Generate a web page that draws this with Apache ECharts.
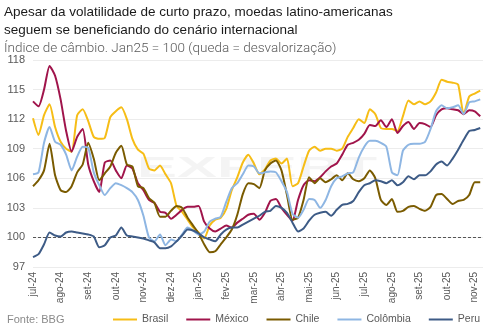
<!DOCTYPE html>
<html>
<head>
<meta charset="utf-8">
<script src="https://cdn.jsdelivr.net/npm/echarts@6/dist/echarts.min.js"></script>
<style>
  html, body { margin: 0; padding: 0; background: #fff; }
  #chart { width: 502px; height: 335px; }
</style>
</head>
<body>
<div id="chart"></div>
<script>
var chart = echarts.init(document.getElementById('chart'));

// rótulos dos meses (eixo x = meses desde jul-24)
var MESES = ['jul-24','ago-24','set-24','out-24','nov-24','dez-24','jan-25','fev-25','mar-25',
             'abr-25','mai-25','jun-25','jul-25','ago-25','set-25','out-25','nov-25'];
var PASSO = 0.2; // um ponto a cada 0,2 mês

var brasil = [112.1,110.4,112.4,113.5,111.2,109.7,109.0,108.7,112.4,113.0,111.8,110.2,110.0,110.1,112.2,112.8,
  113.2,112.0,110.0,108.9,108.5,107.0,106.8,107.3,106.4,105.5,103.2,102.6,101.8,101.0,100.5,99.9,
  101.2,101.8,102.0,102.9,104.8,106.1,107.6,108.4,107.5,106.4,106.9,107.8,108.0,107.5,108.0,105.2,
  105.5,107.2,108.8,109.2,108.8,109.0,109.0,108.8,109.0,110.2,111.1,112.0,111.6,113.0,112.5,111.1,
  111.0,111.0,110.8,112.3,113.9,113.5,113.8,113.5,113.8,114.7,116.0,115.8,115.7,115.5,112.5,114.3,
  114.6,114.9];
var mexico = [113.8,113.3,115.0,117.4,116.4,114.0,110.8,108.7,110.2,111.0,107.4,105.7,104.6,107.6,107.8,106.8,
  106.0,107.3,107.0,105.5,104.8,103.8,103.5,102.6,102.5,101.9,102.3,102.8,103.1,103.1,103.2,101.6,
  100.9,100.6,100.9,101.2,101.0,101.5,101.9,102.3,102.4,101.8,102.5,103.7,103.9,103.0,102.3,101.7,
  103.8,105.3,105.8,105.7,106.1,106.7,107.2,107.5,108.4,109.4,109.6,109.9,110.5,111.4,111.3,111.9,
  111.2,112.0,110.6,111.3,111.7,111.0,111.6,111.5,111.2,112.4,113.0,113.1,113.0,112.9,112.5,112.9,
  112.8,112.3];
var chile = [105.2,105.8,106.8,109.5,106.3,104.8,104.6,105.2,106.6,107.4,109.6,108.0,105.8,106.5,107.2,108.6,
  109.3,107.4,107.2,105.2,105.0,104.0,103.5,102.1,102.1,102.7,103.2,103.0,102.0,101.2,100.4,99.3,
  98.5,98.6,99.3,100.0,100.8,102.3,104.4,105.5,105.4,105.0,106.8,107.5,107.8,106.8,104.3,101.8,
  102.0,103.8,106.1,105.5,106.0,105.6,105.9,106.3,105.8,106.5,105.9,105.7,106.0,106.8,106.0,103.8,
  103.3,103.9,102.6,102.7,103.1,103.2,102.9,102.7,103.1,104.3,104.4,103.9,103.4,103.7,103.8,104.3,
  105.6,105.6];
var colombia = [106.4,106.6,109.6,111.2,109.7,109.4,108.4,106.8,108.2,109.2,109.1,106.6,105.3,104.3,105.0,105.5,
  105.3,105.0,104.6,103.8,102.2,100.0,99.6,100.3,99.2,99.8,99.6,100.3,101.0,100.7,100.3,100.6,
  101.6,101.9,102.1,103.6,105.0,105.5,106.4,107.3,107.2,106.5,106.6,106.7,106.6,105.7,104.6,102.4,
  102.0,102.8,103.9,103.8,103.0,103.8,105.2,106.0,106.2,106.5,106.6,108.1,109.2,109.8,109.8,109.6,
  109.2,106.6,106.3,108.8,109.4,109.5,109.5,109.7,111.0,112.8,113.4,113.1,113.2,113.4,112.5,113.7,
  113.8,114.0];
var peru = [98.0,98.3,99.3,100.5,100.2,100.1,100.5,100.6,100.5,100.4,100.3,100.1,99.0,99.2,100.0,100.2,
  101.0,100.2,100.1,100.0,99.9,99.7,99.5,98.9,98.9,99.1,99.6,100.2,100.8,100.7,100.4,100.0,
  99.8,99.6,100.3,100.8,101.0,101.0,101.3,101.6,101.9,102.2,102.6,102.7,103.2,103.0,102.5,101.5,
  100.6,100.9,101.7,102.3,102.5,102.6,102.2,102.8,103.3,103.4,103.7,104.6,105.3,105.5,105.8,105.7,
  105.5,105.8,105.3,105.6,106.2,105.9,106.3,106.3,106.7,107.4,107.7,107.3,108.0,108.9,109.9,110.8,
  110.9,111.1];

var nomes = ['Brasil', 'México', 'Chile', 'Colômbia', 'Peru'];
var valores = [brasil, mexico, chile, colombia, peru];
var cores = ['#F6BD16', '#A0144B', '#7A5B00', '#8EB6E3', '#3D5B86'];

function pares(arr) {
  return arr.map(function (v, i) { return [+(i * PASSO).toFixed(2), v]; });
}

var series = nomes.map(function (n, i) {
  return {
    name: n,
    type: 'line',
    data: pares(valores[i]),
    showSymbol: false,
    smooth: 0.2,
    lineStyle: { width: 2, color: cores[i] },
    itemStyle: { color: cores[i] },
    z: 3
  };
});
// linha tracejada em 100
series[4].markLine = {
  silent: true,
  symbol: 'none',
  label: { show: false },
  lineStyle: { color: '#555', type: [3, 2], width: 1 },
  data: [{ yAxis: 100 }],
  z: 1
};

var option = {
  backgroundColor: '#fff',
  animation: false,
  textStyle: { fontFamily: 'Liberation Sans, Arial, sans-serif' },
  title: {
    text: 'Apesar da volatilidade de curto prazo, moedas latino-americanas\nseguem se beneficiando do cenário internacional',
    subtext: 'Índice de câmbio. Jan25 = 100 (queda = desvalorização)',
    left: 4, top: 3, padding: 0, itemGap: 3,
    textStyle: { fontSize: 13.5, fontWeight: 'normal', color: '#1a1a1a', lineHeight: 18, fontFamily: 'Liberation Sans, Arial' },
    subtextStyle: { fontSize: 13.5, fontWeight: 300, color: '#595959', fontFamily: 'Roboto, Arial' }
  },
  graphic: [
    { type: 'text', left: 137, top: 154, z: 0, scaleX: 2,
      style: { text: 'EXPERT', font: 'bold 30px Liberation Sans, Arial', fill: 'rgba(0,0,0,0.045)' } },
    { type: 'text', left: 7, top: 314,
      style: { text: 'Fonte: BBG', font: '11px Liberation Sans, Arial', fill: '#8a8a8a' } }
  ],
  legend: {
    data: nomes,
    left: 113, top: 314, padding: 0,
    icon: 'rect', itemWidth: 24, itemHeight: 2, itemGap: 18,
    textStyle: { fontSize: 10.5, color: '#595959' }
  },
  grid: { left: 33, right: 19, top: 60, bottom: 68 },
  xAxis: {
    type: 'value',
    min: 0, max: 16.3, interval: 1,
    axisLine: { show: false },
    axisTick: { show: false },
    splitLine: { show: false },
    axisLabel: {
      rotate: 90, fontSize: 10, color: '#595959', margin: 5,
      formatter: function (v) { return Math.abs(v - Math.round(v)) < 1e-6 ? (MESES[Math.round(v)] || '') : ''; }
    }
  },
  yAxis: {
    type: 'value',
    min: 97, max: 118, interval: 3,
    axisLine: { show: false },
    axisTick: { show: false },
    axisLabel: { fontSize: 11, color: '#595959', margin: 8 },
    splitLine: { lineStyle: { color: '#ececec', width: 1 } }
  },
  series: series
};
chart.setOption(option);
</script>
</body>
</html>
